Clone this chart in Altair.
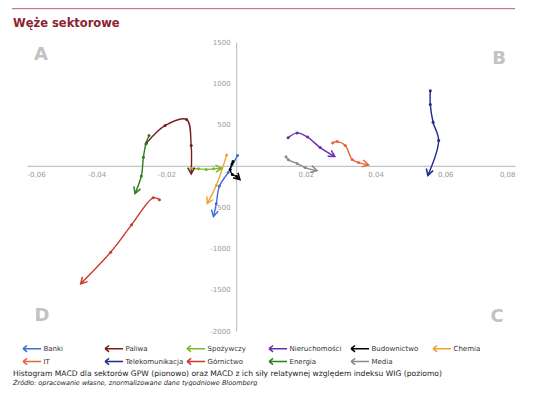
import math
import pandas as pd
import altair as alt

# ---------------- data ----------------
series = ["Banki", "Paliwa", "Spożywczy", "Nieruchomości", "Budownictwo", "Chemia",
          "IT", "Telekomunikacja", "Górnictwo", "Energia", "Media"]
colors = ["#3a6fd8", "#7a1c22", "#7cb82c", "#6a2db0", "#000000", "#f0a236",
          "#e8643a", "#1f2a8a", "#c8392b", "#2e7d1e", "#8a8a8a"]

banki_x = [0.0004, -0.0023, -0.0048, -0.0057, -0.0065]
banki_y = [125, -81, -244, -460, -613]
paliwa_x = [-0.0257, -0.0204, -0.0142, -0.0129, -0.0129]
paliwa_y = [278, 488, 560, 246, -97]
spozywczy_x = [-0.0129, -0.0108, -0.0086, -0.0065, -0.0041]
spozywczy_y = [-29, -36, -45, -36, -29]
nieruch_x = [0.0149, 0.0175, 0.0205, 0.0241, 0.0283]
nieruch_y = [339, 399, 348, 221, 113]
budown_x = [-0.0009, -0.0012, -0.0017, -0.0011, 0.0002, 0.0011]
budown_y = [52, 24, -45, -105, -129, -166]
chemia_x = [-0.0027, -0.0057, -0.0083]
chemia_y = [133, -238, -456]
it_x = [0.0277, 0.0290, 0.0313, 0.0333, 0.0351, 0.0380]
it_y = [278, 294, 246, 76, 40, 12]
telekom_x = [0.0557, 0.0557, 0.0565, 0.0581, 0.0550]
telekom_y = [911, 742, 528, 306, -117]
gornictwo_x = [-0.0220, -0.0238, -0.0300, -0.0360, -0.0446]
gornictwo_y = [-411, -387, -714, -1045, -1428]
energia_x = [-0.0250, -0.0259, -0.0266, -0.0272, -0.0290]
energia_y = [367, 266, 104, -123, -335]
media_x = [0.0143, 0.0150, 0.0175, 0.0198, 0.0232]
media_y = [109, 73, 28, -21, -57]

x_ticks = [-0.06, -0.04, -0.02, 0.0, 0.02, 0.04, 0.06, 0.08]
y_ticks = [-2000, -1500, -1000, -500, 0, 500, 1000, 1500]

title_text = "Węże sektorowe"
footer_1 = ("Histogram MACD dla sektorów GPW (pionowo) oraz MACD z ich siły "
            "relatywnej względem indeksu WIG (poziomo)")
footer_2 = "Źródło: opracowanie własne, znormalizowane dane tygodniowe Bloomberg"

# ---------------- layout ----------------
W, H = 488, 289
XMIN, XMAX = x_ticks[0], x_ticks[-1]
YMIN, YMAX = y_ticks[0], y_ticks[-1]
kx = W / (XMAX - XMIN)
ky = H / (YMAX - YMIN)

xs = [banki_x, paliwa_x, spozywczy_x, nieruch_x, budown_x, chemia_x,
      it_x, telekom_x, gornictwo_x, energia_x, media_x]
ys = [banki_y, paliwa_y, spozywczy_y, nieruch_y, budown_y, chemia_y,
      it_y, telekom_y, gornictwo_y, energia_y, media_y]

rows, dots, ends = [], [], []
for s, xl, yl in zip(series, xs, ys):
    n = len(xl)
    for i in range(n):
        r = {"series": s, "i": i, "x": xl[i], "y": yl[i]}
        rows.append(r)
        if i < n - 1:
            dots.append(r)
    dx = xl[-1] - xl[-2]
    dy = yl[-1] - yl[-2]
    ang = math.degrees(math.atan2(dx * kx, dy * ky)) % 360
    ends.append({"series": s, "x": xl[-1], "y": yl[-1], "angle": ang})

df = pd.DataFrame(rows)
df_dots = pd.DataFrame(dots)
df_ends = pd.DataFrame(ends)

FONT = "DejaVu Sans"
x_off = -(W * (0 - XMIN) / (XMAX - XMIN))
y_off = -(H * (0 - YMIN) / (YMAX - YMIN))

xenc = alt.X("x:Q", scale=alt.Scale(domain=[XMIN, XMAX], nice=False, zero=False),
             axis=alt.Axis(values=x_ticks, orient="bottom", offset=y_off, title=None,
                           grid=False, ticks=False, domainColor="#c4c4c4", domainWidth=1.2,
                           labelColor="#9a9a9a", labelFont=FONT, labelFontSize=7,
                           labelPadding=5,
                           labelExpr="datum.value == 0 ? '' : replace(toString(datum.value), '.', ',')"))
yenc = alt.Y("y:Q", scale=alt.Scale(domain=[YMIN, YMAX], nice=False, zero=False),
             axis=alt.Axis(values=y_ticks, orient="left", offset=x_off, title=None,
                           grid=False, ticks=False, domainColor="#c4c4c4", domainWidth=1.2,
                           labelColor="#9a9a9a", labelFont=FONT, labelFontSize=7,
                           labelPadding=6,
                           labelExpr="datum.value == 0 ? '' : toString(datum.value)"))

color_scale = alt.Scale(domain=series, range=colors)
legend_symbol = "M -2 0 L 2 0 M -2 0 L -1.1 -0.7 M -2 0 L -1.1 0.7"

lines = alt.Chart(df).mark_line(interpolate="catmull-rom", strokeWidth=1.4).encode(
    x=xenc, y=yenc, order=alt.Order("i:Q"),
    color=alt.Color("series:N", scale=color_scale,
                    legend=alt.Legend(orient="none", legendX=-0.5, legendY=301,
                                      direction="horizontal", columns=6, title=None,
                                      symbolType=legend_symbol, symbolSize=81,
                                      symbolStrokeWidth=1.5, labelFont=FONT,
                                      labelFontSize=7, labelColor="#333333",
                                      labelOffset=6, rowPadding=0, columnPadding=0,
                                      gridAlign="all", labelLimit=120)),
)

pts = alt.Chart(df_dots).mark_circle(size=9, opacity=1).encode(
    x=xenc, y=yenc, color=alt.Color("series:N", scale=color_scale, legend=None))

arrow_path = "M -0.7 1.25 L 0 0 L 0.7 1.25"
arrows = alt.Chart(df_ends).mark_point(shape=arrow_path, size=100, filled=False,
                                      strokeWidth=1.5, opacity=1).encode(
    x=xenc, y=yenc, angle=alt.Angle("angle:Q", scale=None),
    color=alt.Color("series:N", scale=color_scale, legend=None))


def label(text, x, y, **kw):
    return alt.Chart(pd.DataFrame({"t": [text]})).mark_text(font=FONT, **kw).encode(
        x=alt.value(x), y=alt.value(y), text="t:N")


top_rule = alt.Chart(pd.DataFrame({"a": [0]})).mark_rule(color="#b85a68", strokeWidth=1).encode(
    x=alt.value(-15), x2=alt.value(488), y=alt.value(-33.3))

title = label(title_text, -14, -18.5, fontSize=11.5, fontWeight="bold", color="#8b2333",
              align="left", baseline="middle")
letters = [
    label("A", 14, 12.5, fontSize=18, fontWeight="bold", color="#c2c2c2", align="center", baseline="middle"),
    label("B", 472, 17, fontSize=18, fontWeight="bold", color="#c2c2c2", align="center", baseline="middle"),
    label("C", 470, 275, fontSize=18, fontWeight="bold", color="#c2c2c2", align="center", baseline="middle"),
    label("D", 15, 274, fontSize=18, fontWeight="bold", color="#c2c2c2", align="center", baseline="middle"),
]
f1 = label(footer_1, -14, 331.5, fontSize=7.6, color="#222222", align="left", baseline="middle")
f2 = label(footer_2, -14, 340.5, fontSize=6.5, color="#222222", align="left", baseline="middle",
           fontStyle="italic")

chart = alt.layer(lines, pts, arrows, top_rule, title, *letters, f1, f2).properties(
    width=W, height=H,
    padding={"left": 19, "top": 34, "right": 13, "bottom": 55},
    autosize=alt.AutoSizeParams(type="none"),
    background="white",
).configure_view(stroke="transparent", strokeWidth=0)

chart.save("out.html", embed_options={"renderer": "svg", "actions": False})
